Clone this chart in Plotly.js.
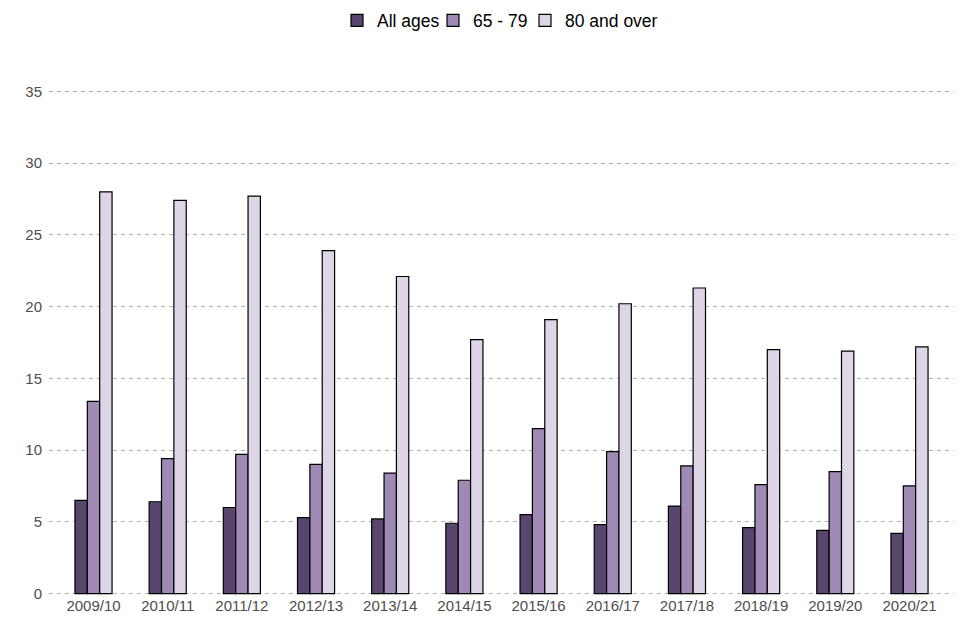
<!DOCTYPE html>
<html>
<head>
<meta charset="utf-8">
<script src="https://cdn.plot.ly/plotly-3.0.1.min.js"></script>
<style>html,body{margin:0;padding:0;background:#fff;}#chart{width:960px;height:640px;}</style>
</head>
<body>
<div id="chart"></div>
<script>
const categories = ["2009/10","2010/11","2011/12","2012/13","2013/14","2014/15","2015/16","2016/17","2017/18","2018/19","2019/20","2020/21"];
const allAges = [6.5, 6.4, 6.0, 5.3, 5.2, 4.9, 5.5, 4.8, 6.1, 4.6, 4.4, 4.2];
const age65to79 = [13.4, 9.4, 9.7, 9.0, 8.4, 7.9, 11.5, 9.9, 8.9, 7.6, 8.5, 7.5];
const age80plus = [28.0, 27.4, 27.7, 23.9, 22.1, 17.7, 19.1, 20.2, 21.3, 17.0, 16.9, 17.2];
const seriesNames = ["All ages", "65 - 79", "80 and over"];
const seriesColors = ["#59466f", "#9f89b5", "#ded5e7"];
const yTicks = [0, 5, 10, 15, 20, 25, 30, 35];

const legendIds = ["legend", "legend2", "legend3"];
const legendX = [337, 433, 525];

const seriesValues = [allAges, age65to79, age80plus];
const traces = seriesValues.map((vals, i) => ({
  type: "bar",
  name: seriesNames[i],
  legend: legendIds[i],
  x: categories,
  y: vals,
  marker: {color: seriesColors[i], line: {color: "#000000", width: 1.2}},
  hoverinfo: "x+y+name"
}));

const layout = {
  width: 960,
  height: 640,
  margin: {l: 49, r: 6, t: 90, b: 45},
  paper_bgcolor: "#ffffff",
  plot_bgcolor: "#ffffff",
  font: {family: "Liberation Sans, Arial, sans-serif", size: 15, color: "#4d4d4d"},
  barmode: "group",
  bargap: 0.5,
  bargroupgap: 0,
  showlegend: true,
  xaxis: {
    type: "category",
    range: [-0.6, categories.length - 0.4],
    showgrid: false,
    zeroline: false,
    showline: false,
    ticks: "",
    tickfont: {size: 15, color: "#4d4d4d"},
    automargin: false
  },
  yaxis: {
    range: [-0.1, 35.1],
    tickvals: yTicks,
    ticktext: yTicks.map(String),
    showgrid: true,
    gridcolor: "#b3b3b3",
    griddash: "4px,4px",
    gridwidth: 1,
    zeroline: false,
    showline: false,
    ticks: "",
    ticklabelstandoff: 6,
    tickfont: {size: 15, color: "#4d4d4d"},
    automargin: false
  }
};
legendIds.forEach((id, i) => {
  layout[id] = {
    orientation: "h",
    xref: "container", yref: "container",
    x: legendX[i] / 960, xanchor: "left",
    y: 0.968, yanchor: "middle",
    font: {size: 17.5, color: "#000000"},
    bgcolor: "rgba(0,0,0,0)"
  };
});

Plotly.newPlot("chart", traces, layout, {displayModeBar: false, staticPlot: true});
</script>
</body>
</html>
